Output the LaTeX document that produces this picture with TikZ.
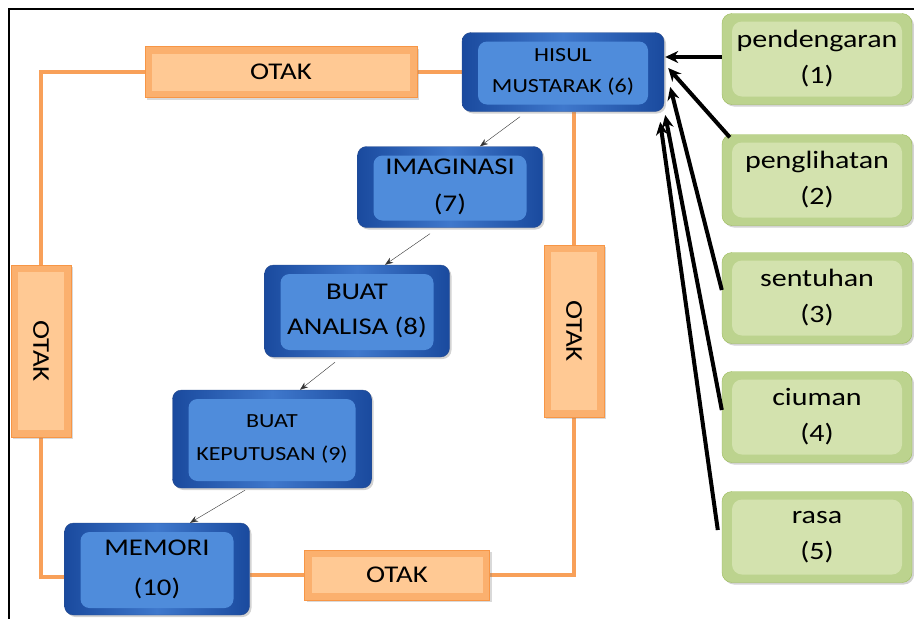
\documentclass[tikz,border=0pt]{standalone}
\usepackage{fontspec}
\setmainfont{Carlito}[FakeStretch=1.2]
\usetikzlibrary{arrows.meta,shadows,backgrounds}

\definecolor{stageedge}{HTML}{1A4A9E}
\definecolor{stagemid}{HTML}{3F78CC}
\definecolor{stagefill}{HTML}{4F8CDB}
\definecolor{stageline}{HTML}{2A4D8F}
\definecolor{otakedge}{HTML}{FBB06E}
\definecolor{otakfill}{HTML}{FFC994}
\definecolor{otakline}{HTML}{F79646}
\definecolor{senseedge}{HTML}{BCD38E}
\definecolor{sensefill}{HTML}{D3E2AE}
\definecolor{senseline}{HTML}{9BBB59}

\begin{document}
\begin{tikzpicture}[
        x=1pt, y=-1pt,
    ]

    \tikzstyle{stage} = [rectangle, rounded corners=9pt, draw=stageline,
                         left color=stageedge, right color=stageedge, middle color=stagemid,
                         align=center, text=black,
                         drop shadow={opacity=0.35, shadow xshift=2pt, shadow yshift=-2pt},
                         path picture={\fill[stagefill]
                            ([shift={(16pt,-9pt)}]path picture bounding box.north west) rectangle
                            ([shift={(-16pt,7pt)}]path picture bounding box.south east);}]
    \tikzstyle{otak} = [rectangle, draw=otakline, fill=otakedge, align=center,
                        font=\fontsize{24}{26}\selectfont,
                        drop shadow={opacity=0.3, shadow xshift=2pt, shadow yshift=-2pt},
                        path picture={\fill[otakfill]
                            ([shift={(7pt,-7pt)}]path picture bounding box.north west) rectangle
                            ([shift={(-7pt,7pt)}]path picture bounding box.south east);}]
    \tikzstyle{sense} = [rectangle, rounded corners=10pt, draw=senseline, fill=senseedge,
                         minimum width=190pt, minimum height=91pt, align=center,
                         font=\fontsize{25}{36}\selectfont,
                         drop shadow={opacity=0.35, shadow xshift=2pt, shadow yshift=-2pt},
                         path picture={\fill[sensefill]
                            ([shift={(10pt,-8pt)}]path picture bounding box.north west) rectangle
                            ([shift={(-10pt,8pt)}]path picture bounding box.south east);}]
    \tikzstyle{link} = [draw=otakline!90!white, line width=3.5pt]
    \tikzstyle{flow} = [->, >={Stealth[length=8pt]}, thin, black!80]
    \tikzstyle{input} = [-{Stealth[length=13pt, width=12pt]}, line width=4pt]

    \useasboundingbox (0,0) rectangle (914,619);

    % Frame
    \draw[line width=2pt] (914,9) -- (9,9) -- (9,619);

    % Nodes
    \node[stage, minimum width=202pt, minimum height=79pt,
          font=\fontsize{20}{31}\selectfont] (hisul) at (563,72) {HISUL\\MUSTARAK (6)};
    \node[stage, minimum width=185pt, minimum height=81pt,
          font=\fontsize{24}{37}\selectfont] (imag) at (450,187) {IMAGINASI\\(7)};
    \node[stage, minimum width=185pt, minimum height=92pt,
          font=\fontsize{24}{35}\selectfont] (analisa) at (357,311) {BUAT\\ANALISA (8)};
    \node[stage, minimum width=199pt, minimum height=98pt,
          font=\fontsize{20}{33}\selectfont] (keput) at (272,439) {BUAT\\KEPUTUSAN (9)};
    \node[stage, minimum width=185pt, minimum height=92pt,
          font=\fontsize{24}{40}\selectfont] (memori) at (157,569) {MEMORI\\(10)};

    \node[otak, minimum width=272pt, minimum height=51pt] (otakT) at (281,72) {OTAK};
    \node[otak, minimum width=60pt, minimum height=172pt] (otakL) at (41,351) {\rotatebox{-90}{OTAK}};
    \node[otak, minimum width=60pt, minimum height=172pt] (otakR) at (574,331) {\rotatebox{-90}{OTAK}};
    \node[otak, minimum width=185pt, minimum height=50pt] (otakB) at (397,575) {OTAK};

    \node[sense] (pend) at (817,59) {pendengaran\\(1)};
    \node[sense] (peng) at (817,180) {penglihatan\\(2)};
    \node[sense] (sent) at (817,298) {sentuhan\\(3)};
    \node[sense] (cium) at (817,417) {ciuman\\(4)};
    \node[sense] (rasa) at (817,537) {rasa\\(5)};

    % OTAK loop, behind the boxes
    \begin{scope}[on background layer]
        \draw[link] (otakT.west) -| (otakL.north);
        \draw[link] (otakL.south) |- ([yshift=-8pt]memori.west);
        \draw[link] (otakT.east) -- (otakT.east -| hisul.west);
        \draw[link] (hisul.south -| otakR.north) -- (otakR.north);
        \draw[link] (otakR.south) |- (otakB.east);
        \draw[link] (otakB.west) -- (otakB.west -| memori.east);
    \end{scope}

    % Arrows
    \draw[flow] ([shift={(-43pt,-5pt)}]hisul.south) -- ([xshift=30pt]imag.north);
    \draw[flow] ([shift={(-20pt,-6pt)}]imag.south) -- ([xshift=28pt]analisa.north);
    \draw[flow] ([shift={(-22pt,-5pt)}]analisa.south) -- ([xshift=28pt]keput.north);
    \draw[flow] ([shift={(-27pt,-2pt)}]keput.south) -- ([xshift=33pt]memori.north);

    % Senses into HISUL
    \draw[input] ([yshift=2pt]pend.west) -- ([shift={(1pt,2pt)}]pend.west -| hisul.east);
    \draw[input] ([shift={(8pt,-3pt)}]peng.north west) -- ([shift={(4pt,4pt)}]hisul.east);
    \draw[input] ([yshift=8pt]sent.west) -- ([shift={(6pt,-15pt)}]hisul.east);
    \draw[input] ([yshift=7pt]cium.west) -- ([shift={(1pt,-43pt)}]hisul.east);
    \draw[input] ([shift={(-4pt,7pt)}]rasa.west) -- ([shift={(-4pt,-50pt)}]hisul.east);

\end{tikzpicture}
\end{document}
